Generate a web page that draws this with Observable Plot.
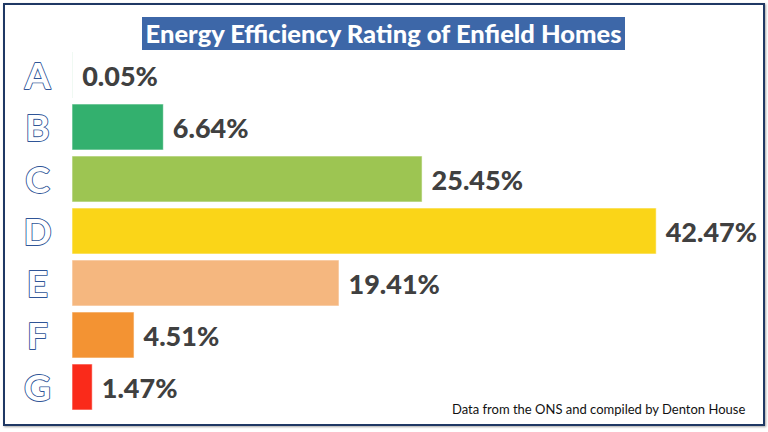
<!DOCTYPE html>
<html>
<head>
<meta charset="utf-8">
<script src="https://cdn.jsdelivr.net/npm/d3@7"></script>
<script src="https://cdn.jsdelivr.net/npm/@observablehq/plot@0.6"></script>
<style>
  html, body { margin: 0; padding: 0; background: #ffffff; }
  #wrap { position: relative; width: 768px; height: 432px; overflow: hidden; background: #fff; }
  #chart { position: absolute; left: 0; top: 0; }
  #frame { position: absolute; left: 3px; top: 3px; width: 758px; height: 419px;
           border: 2px solid #1f3864; box-shadow: 1px 1px 2px rgba(0,0,0,0.35); pointer-events: none; }
  #title { position: absolute; left: 142px; top: 17px; width: 483px; height: 33px;
           background: #3d67a8; color: #fff; font-family: Lato, sans-serif; font-weight: 900;
           font-size: 25.5px; line-height: 33px; text-align: center; white-space: nowrap; }
  #foot { position: absolute; left: 452px; top: 401px; font-family: Lato, sans-serif;
          font-size: 13px; color: #111; white-space: nowrap; }
</style>
</head>
<body>
<div id="wrap">
  <div id="chart"></div>
  <div id="frame"></div>
  <div id="title">Energy Efficiency Rating of Enfield Homes</div>
  <div id="foot">Data from the ONS and compiled by Denton House</div>
</div>
<script>
const ratings = ["A", "B", "C", "D", "E", "F", "G"];
const shares = [0.05, 6.64, 25.45, 42.47, 19.41, 4.51, 1.47];
const barColors = ["#c8ead3", "#33b06e", "#9dc552", "#fad518", "#f5b77f", "#f39333", "#fa2a1a"];
const gridTicks = [0, 5, 10, 15, 20, 25, 30, 35, 40, 45];

const data = ratings.map((r, i) => ({rating: r, share: shares[i], color: barColors[i]}));

const chart = Plot.plot({
  width: 768,
  height: 432,
  marginLeft: 72,
  marginRight: 77,
  marginTop: 50,
  marginBottom: 19,
  style: {background: "transparent"},
  x: {domain: [0, 45], axis: null},
  y: {domain: ratings, axis: null, paddingInner: 0.11, paddingOuter: 0},
  marks: [
    Plot.ruleX(gridTicks, {x: d => d, y1: 50, y2: 415, stroke: "#dedede", strokeWidth: 1}),
    Plot.barX(data, {y: "rating", x: "share", fill: "color", stroke: "#ffffff", strokeOpacity: 0.6, strokeWidth: 1}),
    Plot.text(data, {y: "rating", x: 0, text: "rating", dx: -35, dy: 2, textAnchor: "middle",
      fontFamily: "Lato, sans-serif", fontWeight: "bold", fontSize: 37, fill: "#ffffff", stroke: "#2f5597", strokeWidth: 1.8}),
    Plot.text(data, {y: "rating", x: "share", text: d => d.share.toFixed(2) + "%", dx: 9, dy: 2,
      textAnchor: "start", fontFamily: "Lato, sans-serif", fontWeight: 900, fontSize: 27, fill: "#404040"})
  ]
});
document.getElementById("chart").appendChild(chart);
</script>
</body>
</html>
